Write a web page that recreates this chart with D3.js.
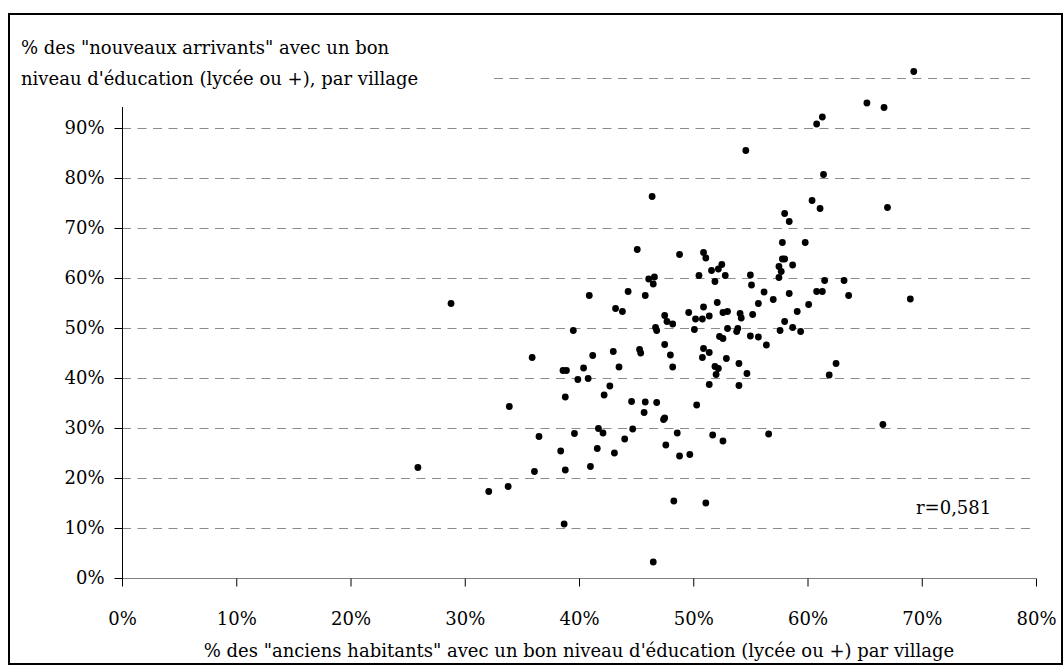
<!DOCTYPE html>
<html>
<head>
<meta charset="utf-8">
<script src="https://cdn.jsdelivr.net/npm/d3@7"></script>
<style>
  body { margin: 0; background: #fff; }
</style>
</head>
<body>
<svg id="vis" width="1064" height="672"></svg>
<script>
// share of "anciens habitants" with a good education level, per village (%)
var oldResidents = [
  69.3, 65.2, 66.7, 61.3, 60.8, 54.6, 61.4, 46.4, 60.4, 61.1,
  67.0, 58.0, 58.4, 57.8, 59.8, 45.1, 48.8, 50.9, 51.1, 57.8,
  58.0, 52.5, 52.2, 51.6, 57.5, 57.7, 58.7, 55.0, 52.8, 50.5,
  57.5, 46.1, 46.6, 46.5, 51.9, 61.5, 63.2, 55.1, 40.9, 44.3,
  45.8, 56.2, 57.0, 58.4, 60.8, 61.3, 63.6, 69.0, 52.1, 55.7,
  60.1, 50.9, 43.2, 43.8, 59.1, 52.6, 53.0, 49.6, 28.8, 47.5,
  50.2, 50.8, 51.4, 54.1, 54.2, 55.2, 58.0, 47.7, 48.2, 46.7,
  46.8, 39.5, 50.1, 53.0, 53.9, 53.8, 57.6, 58.7, 59.4, 52.3,
  52.6, 55.0, 55.7, 56.4, 47.5, 48.0, 48.2, 50.9, 51.4, 50.8,
  52.9, 51.9, 52.2, 52.0, 54.0, 54.7, 51.4, 54.0, 62.5, 61.9,
  35.9, 43.0, 45.3, 45.4, 41.2, 38.6, 38.9, 40.4, 43.5, 39.9,
  40.8, 42.7, 42.2, 38.8, 44.6, 45.8, 46.8, 45.7, 50.3, 47.5,
  33.9, 36.5, 39.6, 41.7, 42.1, 44.7, 44.0, 38.4, 41.6, 43.1,
  36.1, 38.8, 41.0, 38.7, 46.5, 47.4, 48.6, 51.7, 52.6, 56.6,
  47.6, 48.8, 49.7, 48.3, 51.1, 66.6, 25.9, 32.1, 33.8
];

// share of "nouveaux arrivants" with a good education level, same villages (%)
var newcomers = [
  101.3, 95.0, 94.1, 92.2, 90.8, 85.5, 80.7, 76.3, 75.5, 73.9,
  74.1, 72.9, 71.3, 67.1, 67.1, 65.7, 64.7, 65.1, 64.0, 63.8,
  63.8, 62.7, 61.8, 61.5, 62.3, 61.3, 62.6, 60.6, 60.5, 60.5,
  60.1, 59.8, 60.2, 58.8, 59.3, 59.5, 59.5, 58.6, 56.5, 57.3,
  56.5, 57.2, 55.7, 56.9, 57.3, 57.3, 56.5, 55.8, 55.1, 54.9,
  54.7, 54.2, 53.9, 53.3, 53.3, 53.1, 53.3, 53.1, 54.9, 52.5,
  51.8, 51.8, 52.4, 52.9, 52.0, 52.7, 51.3, 51.3, 50.8, 50.1,
  49.5, 49.5, 49.7, 49.9, 49.9, 49.3, 49.5, 50.1, 49.3, 48.3,
  47.9, 48.4, 48.2, 46.6, 46.7, 44.6, 42.2, 45.9, 45.1, 44.1,
  43.9, 42.3, 41.9, 40.7, 42.9, 40.9, 38.7, 38.5, 42.9, 40.6,
  44.1, 45.3, 45.7, 45.0, 44.5, 41.5, 41.5, 42.0, 42.2, 39.7,
  39.9, 38.4, 36.6, 36.2, 35.3, 35.2, 35.1, 33.1, 34.6, 32.0,
  34.3, 28.3, 28.9, 29.9, 29.0, 29.8, 27.8, 25.4, 25.9, 25.0,
  21.3, 21.6, 22.3, 10.8, 3.2, 31.7, 29.0, 28.6, 27.4, 28.8,
  26.6, 24.4, 24.7, 15.4, 15.0, 30.7, 22.1, 17.3, 18.3
];

var xTicks = [0, 10, 20, 30, 40, 50, 60, 70, 80];
var yTicks = [0, 10, 20, 30, 40, 50, 60, 70, 80, 90];
var gridValues = [10, 20, 30, 40, 50, 60, 70, 80, 90, 100];

var titleLines = [
  '% des "nouveaux arrivants" avec un bon',
  "niveau d'éducation (lycée ou +), par village"
];
var xTitle = '% des "anciens habitants" avec un bon niveau d\'éducation (lycée ou +) par village';
var corrLabel = "r=0,581";

var svg = d3.select("svg#vis");

var attr = {
  left: 122,
  right: 1036,
  top: 78,
  bottom: 578,
  font: "'DejaVu Serif', serif",
  fontSize: 18
};

var x = d3.scaleLinear().domain([0, 80]).range([attr.left, attr.right]);
var y = d3.scaleLinear().domain([0, 100]).range([attr.bottom, attr.top]);

var points = oldResidents.map(function(v, i) {
  return { x: v, y: newcomers[i] };
});

// outer frame
svg.append("rect")
  .attr("x", 9)
  .attr("y", 14)
  .attr("width", 1053)
  .attr("height", 650)
  .attr("fill", "#fff")
  .attr("stroke", "#000")
  .attr("stroke-width", 2);

// dashed gridlines
svg.append("g").selectAll("line.grid")
  .data(gridValues)
  .enter()
  .append("line")
  .attr("class", "grid")
  .attr("x1", attr.left)
  .attr("x2", attr.right)
  .attr("y1", d => Math.round(y(d)) + 0.5)
  .attr("y2", d => Math.round(y(d)) + 0.5)
  .attr("stroke", "#8c8c8c")
  .attr("stroke-width", 1)
  .attr("stroke-dasharray", "9,6.5");

// x axis
var xAxis = svg.append("g")
  .attr("transform", "translate(0," + (attr.bottom + 0.5) + ")")
  .call(d3.axisBottom(x).tickValues(xTicks).tickSize(8).tickPadding(26)
    .tickFormat(d => d + "%"));
xAxis.attr("font-family", attr.font).attr("font-size", attr.fontSize);
xAxis.select(".domain").attr("stroke", "#808080").attr("d", "M" + attr.left + ",0H" + attr.right);
xAxis.selectAll(".tick line").attr("stroke", "#000");
xAxis.selectAll("text").attr("fill", "#000");

// y axis
var yAxis = svg.append("g")
  .attr("transform", "translate(" + (attr.left + 0.5) + ",0)")
  .call(d3.axisLeft(y).tickValues(yTicks).tickSize(8).tickPadding(10)
    .tickFormat(d => d + "%"));
yAxis.attr("font-family", attr.font).attr("font-size", attr.fontSize);
yAxis.select(".domain").attr("stroke", "#000")
  .attr("d", "M0," + (attr.bottom + 8) + "V" + attr.top);
yAxis.selectAll(".tick line").attr("stroke", "#000");
yAxis.selectAll("text").attr("fill", "#000");

// points
svg.append("g").selectAll("circle")
  .data(points)
  .enter()
  .append("circle")
  .attr("cx", d => x(d.x))
  .attr("cy", d => y(d.y))
  .attr("r", 3.4)
  .attr("fill", "#000");

// y title sits in a white box over the top of the axis
var titleBox = svg.append("g");
titleBox.append("rect")
  .attr("x", 12)
  .attr("y", 17)
  .attr("width", 478)
  .attr("height", 90)
  .attr("fill", "#fff");
titleBox.selectAll("text")
  .data(titleLines)
  .enter()
  .append("text")
  .attr("x", 21)
  .attr("y", (d, i) => 54 + i * 31)
  .attr("font-family", attr.font)
  .attr("font-size", attr.fontSize)
  .text(d => d);

// x title
svg.append("text")
  .attr("x", (attr.left + attr.right) / 2)
  .attr("y", 657)
  .attr("text-anchor", "middle")
  .attr("font-family", attr.font)
  .attr("font-size", attr.fontSize)
  .text(xTitle);

// correlation label
svg.append("text")
  .attr("x", 916)
  .attr("y", 514)
  .attr("font-family", attr.font)
  .attr("font-size", attr.fontSize)
  .text(corrLabel);
</script>
</body>
</html>
